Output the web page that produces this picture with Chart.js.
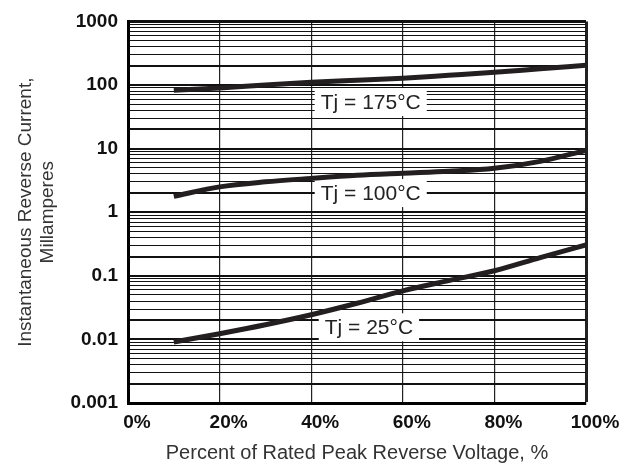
<!DOCTYPE html>
<html>
<head>
<meta charset="utf-8">
<script src="https://cdn.jsdelivr.net/npm/chart.js@4.4.1/dist/chart.umd.min.js"></script>
<style>
  html, body { margin: 0; padding: 0; background: #fff; }
  #wrap { width: 636px; height: 469px; }
</style>
</head>
<body>
<div id="wrap"><canvas id="revChart"></canvas></div>
<script>
const pct = [10, 20, 30, 40, 50, 60, 70, 80, 90, 100];
const tj175 = [83, 90, 100, 110, 119, 128, 142, 158, 180, 204];
const tj100 = [1.78, 2.5, 3.0, 3.4, 3.8, 4.1, 4.4, 4.9, 6.3, 9.4];
const tj25 = [0.0091, 0.0123, 0.017, 0.0244, 0.037, 0.058, 0.084, 0.12, 0.193, 0.305];

const decades = [0.001, 0.01, 0.1, 1, 10, 100];
const yMax = 1000;
const xTicks = [0, 20, 40, 60, 80, 100];

const curveLabels = ['Tj = 175°C', 'Tj = 100°C', 'Tj = 25°C'];
const labelX = [53, 53, 52.6];
const labelY = [54, 2.0, 0.0155];

const ink = '#231f20';
const font = '"Liberation Sans", Arial, sans-serif';

function pts(ys) {
  return pct.map((x, i) => ({x: x, y: ys[i]}));
}

// gridline values 1..9 per decade
const gridVals = [];
decades.forEach(d => { for (let k = 1; k <= 9; k++) gridVals.push(+(d * k).toPrecision(3)); });
gridVals.push(yMax);

const labelBoxes = {
  id: 'labelBoxes',
  beforeDatasetsDraw(chart) {
    const {ctx, scales: {x, y}} = chart;
    ctx.save();
    ctx.font = '21px ' + font;
    ctx.textBaseline = 'middle';
    ctx.textAlign = 'center';
    curveLabels.forEach((t, i) => {
      const px = x.getPixelForValue(labelX[i]);
      const py = y.getPixelForValue(labelY[i]);
      const w = ctx.measureText(t).width;
      ctx.fillStyle = '#fff';
      ctx.fillRect(px - w / 2 - 6, py - 14, w + 12, 28);
      ctx.fillStyle = '#222';
      ctx.fillText(t, px, py + 1);
    });
    ctx.restore();
  }
};

new Chart(document.getElementById('revChart'), {
  type: 'line',
  data: {
    datasets: [
      {label: '175', data: pts(tj175)},
      {label: '100', data: pts(tj100)},
      {label: '25', data: pts(tj25)}
    ].map(d => Object.assign(d, {
      borderColor: ink, borderWidth: 5, pointRadius: 0, tension: 0.4,
      cubicInterpolationMode: 'monotone', fill: false
    }))
  },
  options: {
    responsive: true,
    maintainAspectRatio: false,
    animation: false,
    layout: {padding: {left: 0, top: 19, right: 50, bottom: 0}},
    plugins: {legend: {display: false}, tooltip: {enabled: false}},
    scales: {
      x: {
        type: 'linear', min: 0, max: 100,
        afterBuildTicks: s => { s.ticks = xTicks.map(v => ({value: v})); },
        afterFit: s => { s.height = 66; },
        grid: {
          color: '#222',
          lineWidth: c => c.tick && c.tick.value === 100 ? 3 : 1.2,
          drawTicks: false
        },
        border: {color: '#000', width: 3},
        ticks: {
          color: '#111', padding: 8, labelOffset: 9,
          font: {family: font, size: 19, weight: 'bold'},
          callback: v => v + '%'
        },
        title: {
          display: true, text: 'Percent of Rated Peak Reverse Voltage, %',
          color: '#333', padding: {top: 7},
          font: {family: font, size: 20}
        }
      },
      y: {
        type: 'logarithmic', min: decades[0], max: yMax,
        afterBuildTicks: s => { s.ticks = gridVals.map(v => ({value: v})); },
        afterFit: s => { s.width = 128; },
        grid: {
          color: '#111',
          lineWidth: c => {
            if (!c.tick) return 1;
            const v = c.tick.value;
            if (v === yMax) return 3;
            const m = Math.round(v / Math.pow(10, Math.floor(Math.log10(v) + 1e-9)));
            return (m === 1 || m === 2) ? 2 : 1.1;
          },
          drawTicks: false
        },
        border: {color: '#000', width: 3},
        ticks: {
          autoSkip: false, color: '#111', padding: 10,
          font: {family: font, size: 19, weight: 'bold'},
          callback: v => (decades.includes(v) || v === yMax) ? String(v) : ''
        },
        title: {
          display: true, text: ['Instantaneous Reverse Current,', 'Millamperes'],
          color: '#333', padding: {top: 14, bottom: 0},
          font: {family: font, size: 19}
        }
      }
    }
  },
  plugins: [labelBoxes]
});
</script>
</body>
</html>
